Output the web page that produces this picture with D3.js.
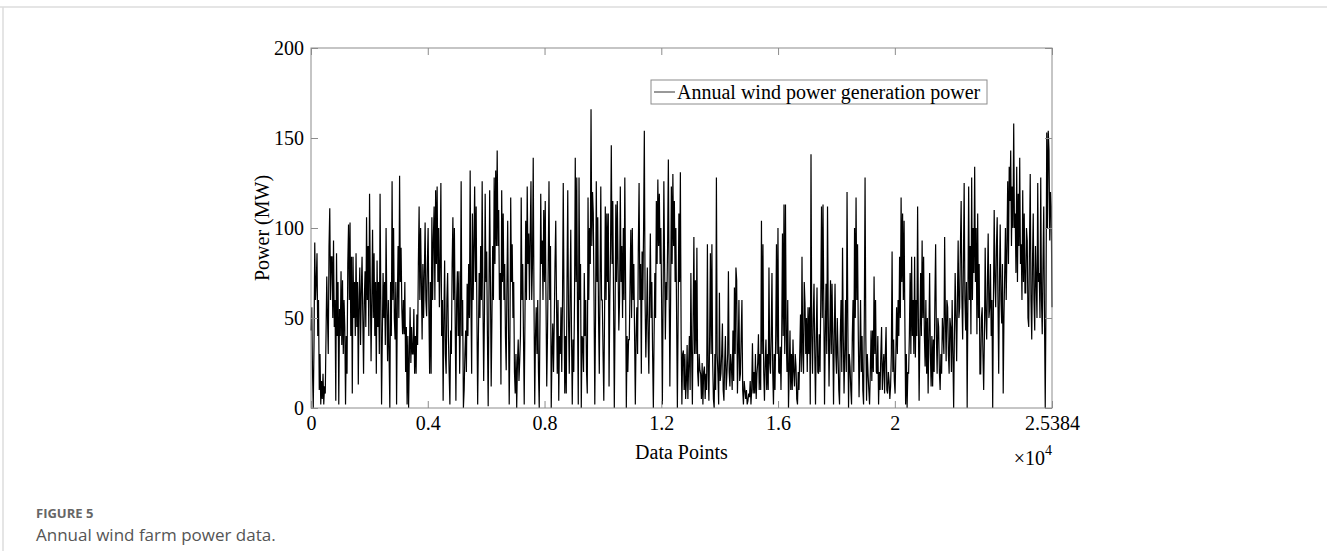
<!DOCTYPE html>
<html>
<head>
<meta charset="utf-8">
<script src="https://cdn.jsdelivr.net/npm/d3@7"></script>
<style>
  body { margin: 0; background: #fff; }
  svg text { font-family: "Liberation Serif", "Times New Roman", serif; }
  .caption text { font-family: "Open Sans", "Noto Sans", sans-serif; }
</style>
</head>
<body>
<svg id="chart"></svg>
<script>
// ---- data ----
const totalPoints = 25384;
const yTickValues = [0, 50, 100, 150, 200];
const xTickValues = [0, 4000, 8000, 12000, 16000, 20000, 25384];
const xTickLabels = ["0", "0.4", "0.8", "1.2", "1.6", "2", "2.5384"];

// power (MW), read left to right at an even step, split into six blocks
const power1 = [43,56,20,0, 35,92,60,70, 86,40,60,10, 30,2,15,5, 19,2,12,8, 40,73,50,30, 90,111,60,84, 84,50,93,45, 60,4,86,40, 70,2,55,40, 76,35,71,30, 60,45,2,40, 19,80,102,60, 103,40,84,8, 84,50,70,40, 86,45,70,13, 60,78,35,65, 84,50,19,60, 76,45,106,60, 90,40,119,70, 26,60,99,50, 86,40,70,19, 82,45,70,30, 119,60,2,40, 75,50,70,35, 100,55,26,60, 30,0,70,40, 126,60,100,50, 38,70,2,60, 90,50,129,70, 89,55,41,60, 41,70,20,45, 2,40,0,30, 56,25,45,30, 30,55,19,40, 19,52,35,80, 112,60,100,70, 38,80,50,75, 103,60,51,80, 100,55,19,70, 19,106,60,95];
const power2 = [112,60,121,80, 123,70,100,56, 80,125,40,60, 4,50,82,30, 19,60,75,40, 20,2,43,30, 80,106,60,100, 50,4,60,76, 40,76,19,50, 126,40,60,0, 10,30,43,20, 69,40,80,50, 132,60,19,108, 60,90,123,70, 112,50,2,40, 75,50,90,60, 126,60,15,50, 119,70,87,40, 1,60,121,70, 12,50,90,60, 128,80,132,90, 143,90,110,60, 75,13,121,70, 108,60,80,40, 21,70,104,50, 2,40,117,70, 91,50,70,20, 8,30,0,25, 38,15,26,40, 117,60,80,40, 2,50,104,60, 123,80,97,60, 97,126,60,80, 139,60,2,40, 56,30,60,20, 0,50,119,80, 93,60,110,70, 115,60,12,40, 80,126,60,90, 0,30,47,20, 47,80,104,60];
const power3 = [19,60,4,40, 30,56,20,60, 125,60,8,40, 8,70,121,50, 19,60,99,40, 2,38,20,60, 139,70,128,50, 2,128,60,80, 0,40,38,20, 75,40,60,20, 8,117,60,100, 80,166,90,120, 108,60,2,50, 126,70,106,50, 19,70,123,60, 60,30,4,50, 112,60,108,70, 108,12,60,90, 146,80,115,60, 0,50,113,70, 115,80,43,60, 123,70,90,50, 100,60,128,70, 0,40,20,38, 38,70,99,50, 100,60,80,40, 2,40,56,30, 90,125,60,80, 19,87,60,100, 154,60,28,50, 78,40,19,60, 97,50,70,30, 0,40,75,50, 115,80,127,90, 119,80,100,60, 2,60,126,80, 38,70,60,90, 138,70,12,60, 123,80,130,90, 115,70,100,50, 0,50,108,70];
const power4 = [131,40,2,30, 32,10,30,5, 15,35,5,24, 40,10,75,30, 2,50,95,30, 71,30,89,20, 12,30,21,19, 5,25,2,20, 23,5,19,10, 91,20,4,40, 86,30,91,26, 5,0,30,10, 128,30,19,2, 64,15,19,30, 47,10,4,25, 40,10,19,30, 76,20,12,30, 23,10,43,15, 67,30,78,71, 8,30,60,15, 19,40,60,10, 2,15,10,5, 10,2,4,8, 6,15,2,10, 36,8,20,8, 30,5,19,25, 41,10,30,10, 104,30,91,20, 4,25,38,10, 30,10,78,25, 19,40,75,20, 2,30,10,40, 91,30,100,20, 19,34,10,40, 97,40,113,30, 113,40,20,60, 0,20,43,10, 30,10,38,20, 12,30,23,5, 2,20,10,30, 52,20,84,30];
const power5 = [19,70,58,30, 50,20,56,30, 56,2,141,40, 19,50,69,30, 2,40,67,20, 19,41,20,60, 112,50,113,60, 2,40,69,30, 112,50,12,40, 71,30,69,40, 2,40,69,30, 19,50,30,10, 2,40,60,20, 89,40,8,30, 60,20,120,50, 0,30,23,10, 2,40,60,20, 100,50,117,60, 91,40,6,30, 60,20,40,10, 2,50,128,40, 4,30,19,10, 2,20,43,15, 43,20,73,30, 60,20,19,40, 2,20,10,30, 45,10,23,30, 8,30,45,10, 8,20,15,5, 12,30,87,20, 38,15,8,30, 56,30,60,40, 84,50,117,70, 108,60,104,50, 2,30,0,20, 19,40,75,30, 84,40,60,30, 84,28,60,40, 112,50,4,40, 75,40,93,50, 84,40,23,60];
const power6 = [19,50,8,40, 75,30,12,40, 12,38,20,60, 91,40,19,50, 45,20,10,30, 19,50,41,30, 95,50,26,60, 56,30,19,50, 45,20,60,30, 0,40,75,50, 26,60,93,50, 56,90,115,60, 38,80,125,60, 43,70,0,60, 123,60,90,41, 128,60,100,75, 134,70,100,41, 108,50,80,19, 19,50,56,30, 10,40,89,50, 38,70,97,50, 56,80,40,60, 0,60,110,70, 56,90,106,60, 19,70,102,60, 47,80,8,50, 75,100,60,90, 126,80,134,115, 143,90,123,100, 158,100,108,75, 134,70,119,90, 139,80,91,60, 121,70,108,64, 64,100,93,50, 45,90,130,60, 38,80,108,60, 43,90,70,50, 125,70,75,50, 128,60,41,80, 112,50,0,60, 153,100,154,143, 93,120,112,56];

const legendLabel = "Annual wind power generation power";
const xLabel = "Data Points";
const yLabel = "Power (MW)";
const figureNo = "FIGURE 5";
const figureCaption = "Annual wind farm power data.";

// ---- layout ----
const W = 1327, H = 551;
const margin = {top: 48, right: 275, bottom: 143, left: 311};
const width = W - margin.left - margin.right;
const height = H - margin.top - margin.bottom;
const axisGrey = "#8c8c8c";

const power = [].concat(power1, power2, power3, power4, power5, power6);
const step = totalPoints / (power.length - 1);
const series = power.map((v, i) => ({idx: i * step, value: v}));

const svg = d3.select("#chart").attr("width", W).attr("height", H);

// page frame lines
svg.append("line").attr("x1", 0).attr("x2", W).attr("y1", 7).attr("y2", 7)
  .attr("stroke", "#dcdcdc").attr("stroke-width", 1.5);
svg.append("line").attr("x1", 3).attr("x2", 3).attr("y1", 7).attr("y2", H)
  .attr("stroke", "#dcdcdc").attr("stroke-width", 1.5);

const chart = svg.append("g").attr("transform", `translate(${margin.left},${margin.top})`);

const x = d3.scaleLinear().domain([0, totalPoints]).range([0, width]);
const y = d3.scaleLinear().domain([0, 200]).range([height, 0]);

// data line
chart.append("path")
  .datum(series)
  .attr("fill", "none")
  .attr("stroke", "#000")
  .attr("stroke-width", 1.2)
  .attr("d", d3.line().x(d => x(d.idx)).y(d => y(d.value)));

// axes, ticks pointing inward (MATLAB box style)
const tickLen = 7;
function styleAxis(g) {
  g.select(".domain").remove();
  g.selectAll(".tick line").attr("stroke", axisGrey);
  g.selectAll(".tick text").attr("fill", "#000").style("font-size", "20px")
    .style("font-family", "'Liberation Serif', 'Times New Roman', serif");
}

chart.append("g").attr("transform", `translate(0,${height})`)
  .call(d3.axisBottom(x).tickValues(xTickValues).tickFormat((d, i) => xTickLabels[i])
    .tickSize(-tickLen).tickPadding(8))
  .call(styleAxis);
chart.append("g")
  .call(d3.axisTop(x).tickValues(xTickValues).tickFormat("").tickSize(-tickLen))
  .call(styleAxis);
chart.append("g")
  .call(d3.axisLeft(y).tickValues(yTickValues).tickFormat(d3.format("d"))
    .tickSize(-tickLen).tickPadding(7))
  .call(styleAxis);
chart.append("g").attr("transform", `translate(${width},0)`)
  .call(d3.axisRight(y).tickValues(yTickValues).tickFormat("").tickSize(-tickLen))
  .call(styleAxis);

// box
chart.append("rect").attr("width", width).attr("height", height)
  .attr("fill", "none").attr("stroke", axisGrey).attr("stroke-width", 1);

// axis titles
chart.append("text")
  .attr("x", width / 2).attr("y", height + 51)
  .attr("text-anchor", "middle").style("font-size", "20px")
  .text(xLabel);
chart.append("text")
  .attr("transform", `translate(${-42},${height / 2}) rotate(-90)`)
  .attr("text-anchor", "middle").style("font-size", "20px")
  .text(yLabel);

// x10^4 multiplier
const mult = chart.append("text")
  .attr("x", width).attr("y", height + 57)
  .attr("text-anchor", "end").style("font-size", "20px");
mult.append("tspan").text("\u00d710");
mult.append("tspan").attr("dy", -10).style("font-size", "14px").text("4");

// legend
const lg = chart.append("g").attr("transform", `translate(${651 - margin.left},${80 - margin.top})`);
lg.append("rect").attr("width", 336).attr("height", 24)
  .attr("fill", "#fff").attr("stroke", axisGrey).attr("stroke-width", 1);
lg.append("line").attr("x1", 3).attr("x2", 24).attr("y1", 12).attr("y2", 12)
  .attr("stroke", "#333").attr("stroke-width", 1);
lg.append("text").attr("x", 26).attr("y", 19).style("font-size", "20px").text(legendLabel);

// caption
const cap = svg.append("g").attr("class", "caption");
cap.append("text").attr("x", 36).attr("y", 518)
  .style("font-size", "13px").style("font-weight", "bold").attr("fill", "#666")
  .text(figureNo);
cap.append("text").attr("x", 36).attr("y", 541)
  .style("font-size", "17px").attr("fill", "#555")
  .text(figureCaption);
</script>
</body>
</html>
